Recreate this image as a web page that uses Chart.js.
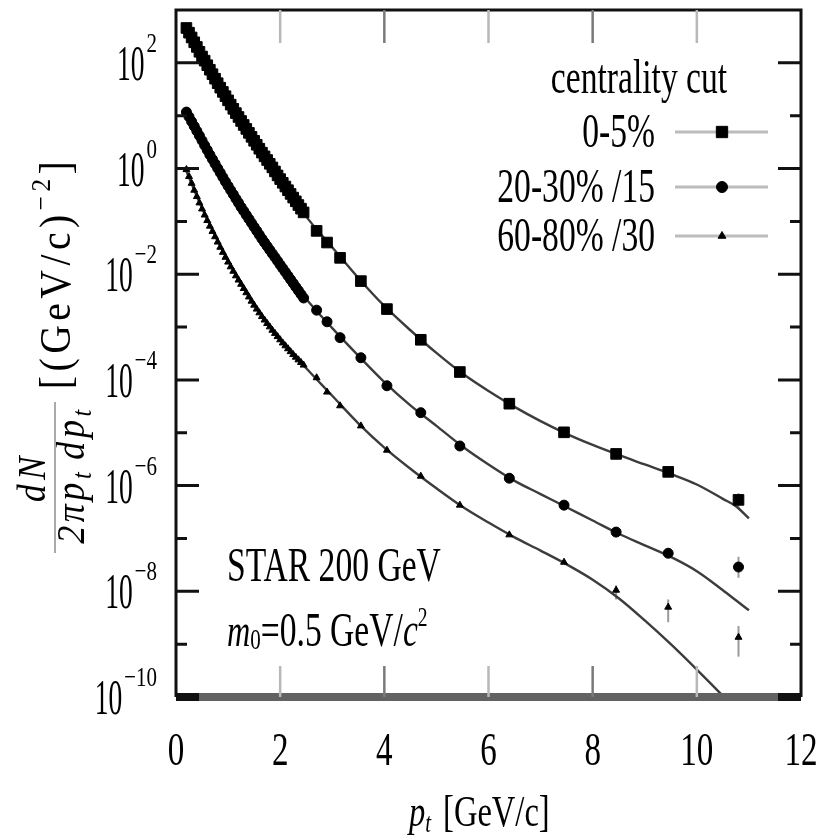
<!DOCTYPE html>
<html>
<head>
<meta charset="utf-8">
<script src="https://cdn.jsdelivr.net/npm/chart.js@4.4.1/dist/chart.umd.min.js"></script>
<style>
body { margin: 0; background: #fff; }
#wrap { width: 823px; height: 838px; }
</style>
</head>
<body>
<div id="wrap"><canvas id="spec" width="823" height="838"></canvas></div>
<script>
'use strict';
// pt bins of the measured points [GeV/c]
const ptData = [0.2, 0.25, 0.3, 0.35, 0.4, 0.45, 0.5, 0.55, 0.6, 0.65, 0.7, 0.75, 0.8, 0.85, 0.9, 0.95,
    1.0, 1.05, 1.1, 1.15, 1.2, 1.25, 1.3, 1.35, 1.4, 1.45, 1.5, 1.55, 1.6, 1.65, 1.7, 1.75,
    1.8, 1.85, 1.9, 1.95, 2.0, 2.05, 2.1, 2.15, 2.2, 2.25, 2.3, 2.35, 2.4, 2.45,
    2.7, 2.9, 3.15, 3.55, 4.05, 4.7, 5.45, 6.4, 7.45, 8.45, 9.45, 10.8];
// spectra
const cent05 = [457, 372, 302, 245, 200, 162, 132, 110, 90.2, 74.1, 61.0, 50.1, 41.2, 33.9, 28.2, 23.4,
    19.5, 16.2, 13.5, 11.2, 9.44, 7.94, 6.68, 5.62, 4.73, 3.98, 3.35, 2.82, 2.37, 2.00, 1.70, 1.45,
    1.23, 1.05, 0.881, 0.741, 0.631, 0.537, 0.457, 0.389, 0.331, 0.282, 0.240, 0.204, 0.174, 0.148,
    0.0661, 0.0398, 0.0204, 7.41e-3, 2.19e-3, 5.75e-4, 1.41e-4, 3.55e-5, 1.02e-5, 3.98e-6, 1.82e-6, 5.37e-7];
const cent2030 = [11.7, 9.55, 7.76, 6.31, 5.13, 4.17, 3.39, 2.75, 2.24, 1.82, 1.50, 1.23, 1.01, 0.832, 0.684, 0.562,
    0.468, 0.389, 0.324, 0.269, 0.224, 0.186, 0.157, 0.132, 0.111, 0.0933, 0.0785, 0.0661, 0.0556, 0.0468, 0.0398, 0.0339,
    0.0288, 0.0245, 0.0209, 0.0178, 0.0151, 0.0129, 0.0110, 9.33e-3, 7.94e-3, 6.76e-3, 5.75e-3, 4.90e-3, 4.17e-3, 3.55e-3,
    2.09e-3, 1.26e-3, 6.31e-4, 2.63e-4, 7.76e-5, 2.40e-5, 5.62e-6, 1.38e-6, 4.27e-7, 1.32e-7, 5.25e-8, 2.88e-8];
const cent6080 = [0.955, 0.708, 0.525, 0.389, 0.295, 0.224, 0.172, 0.132, 0.104, 0.0813, 0.0646, 0.0513, 0.0407, 0.0324, 0.0260, 0.0209,
    0.0170, 0.0138, 0.0114, 9.33e-3, 7.76e-3, 6.46e-3, 5.37e-3, 4.47e-3, 3.72e-3, 3.09e-3, 2.60e-3, 2.19e-3, 1.86e-3, 1.58e-3, 1.36e-3, 1.17e-3,
    1.01e-3, 8.71e-4, 7.59e-4, 6.61e-4, 5.75e-4, 5.01e-4, 4.42e-4, 3.89e-4, 3.43e-4, 3.02e-4, 2.69e-4, 2.40e-4, 2.14e-4, 1.91e-4,
    1.10e-4, 5.89e-5, 3.24e-5, 1.35e-5, 4.68e-6, 1.51e-6, 4.27e-7, 1.17e-7, 3.55e-8, 1.05e-8, 5.01e-9, 1.35e-9];

// error bars on the last points [lo, hi]
const errPt = [8.45, 9.45, 10.8];
const err05 = [[3.6e-6, 4.4e-6], [1.65e-6, 2.0e-6], [3.8e-7, 7.2e-7]];
const err2030 = [[1.2e-7, 1.45e-7], [4.7e-8, 5.9e-8], [1.8e-8, 4.5e-8]];
const err6080 = [[7.0e-9, 1.3e-8], [2.6e-9, 7.0e-9], [5.8e-10, 2.2e-9]];

// model curves (m0 = 0.5 GeV/c^2)
const ptFit = [0.2, 0.5, 1, 1.5, 2, 2.5, 3, 3.5, 4, 4.5, 5, 5.5, 6, 6.5, 7, 7.5, 8, 8.5, 9, 9.5, 10, 10.5, 10.75, 11];
const fit05 = [457, 132, 18.2, 3.31, 0.617, 0.123, 0.0324, 8.51e-3, 2.51e-3, 8.71e-4, 3.24e-4, 1.32e-4,
    6.17e-5, 3.09e-5, 1.66e-5, 9.55e-6, 5.89e-6, 3.80e-6, 2.51e-6, 1.66e-6, 1.05e-6, 5.62e-7, 4.07e-7, 2.40e-7];
const fit2030 = [11.2, 3.39, 0.468, 0.0794, 0.0151, 3.39e-3, 9.55e-4, 2.88e-4, 9.12e-5, 3.31e-5, 1.35e-5, 5.50e-6,
    2.51e-6, 1.23e-6, 6.92e-7, 3.89e-7, 2.19e-7, 1.23e-7, 7.41e-8, 4.47e-8, 2.40e-8, 1.05e-8, 6.76e-9, 4.37e-9];
const fit6080 = [0.891, 0.178, 0.0178, 2.63e-3, 5.75e-4, 1.66e-4, 5.01e-5, 1.51e-5, 5.25e-6, 2.09e-6, 8.91e-7, 3.98e-7,
    2.00e-7, 1.05e-7, 5.89e-8, 3.24e-8, 1.66e-8, 7.41e-9, 2.82e-9, 1.00e-9, 3.31e-10, 1.05e-10, 5.75e-11, 3.16e-11];

const labels = ['0-5%', '20-30% /15', '60-80% /30'];
const xTicks = [0, 2, 4, 6, 8, 10, 12];
const yTickExps = [2, 0, -2, -4, -6, -8, -10];

function pts(xs, ys) {
    return xs.map((x, i) => ({ x: x, y: ys[i] }));
}

const FONT = '"Liberation Serif", "Times New Roman", serif';

// draws a row of text runs; sx squeezes along the text, sy across it
function rich(ctx, parts, x, y, o) {
    o = o || {};
    let sx = o.sx || 1, sy = o.sy || 1;
    ctx.save();
    ctx.translate(x, y);
    if (o.rot) ctx.rotate(o.rot);
    ctx.letterSpacing = (o.ls || 0) + 'px';
    let w = 0;
    parts.forEach(p => {
        ctx.font = (p.it ? 'italic ' : '') + p.s + 'px ' + FONT;
        p.w = ctx.measureText(p.t).width * sx + (p.gap || 0);
        w += p.w;
    });
    let cx = o.align === 'right' ? -w : (o.align === 'center' ? -w / 2 : 0);
    ctx.fillStyle = o.color || '#000';
    ctx.textBaseline = 'alphabetic';
    ctx.textAlign = 'left';
    parts.forEach(p => {
        ctx.font = (p.it ? 'italic ' : '') + p.s + 'px ' + FONT;
        ctx.save();
        ctx.translate(cx + (p.gap || 0), (p.dy || 0) * sy);
        ctx.scale(sx, sy);
        ctx.fillText(p.t, 0, 0);
        ctx.restore();
        cx += p.w;
    });
    ctx.letterSpacing = '0px';
    ctx.restore();
    return w;
}

const errorBars = {
    id: 'errorBars',
    beforeDatasetsDraw(chart) {
        const ctx = chart.ctx, xs = chart.scales.x, ys = chart.scales.y;
        ctx.save();
        ctx.strokeStyle = '#9a9a9a';
        ctx.lineWidth = 2;
        chart.data.datasets.forEach(ds => {
            if (!ds.err) return;
            ds.err.forEach((e, i) => {
                const px = xs.getPixelForValue(errPt[i]);
                ctx.beginPath();
                ctx.moveTo(px, ys.getPixelForValue(e[0]));
                ctx.lineTo(px, ys.getPixelForValue(e[1]));
                ctx.stroke();
            });
        });
        ctx.restore();
    }
};

const frame = {
    id: 'frame',
    afterDatasetsDraw(chart) {
        const ctx = chart.ctx, a = chart.chartArea;
        const xs = chart.scales.x, ys = chart.scales.y;
        ctx.save();
        // border
        ctx.strokeStyle = '#626262';
        ctx.lineWidth = 8;
        ctx.beginPath(); ctx.moveTo(a.left, a.bottom); ctx.lineTo(a.right, a.bottom); ctx.stroke();
        ctx.strokeStyle = '#111';
        ctx.lineWidth = 3;
        ctx.beginPath();
        ctx.moveTo(a.left, a.bottom); ctx.lineTo(a.left, a.top);
        ctx.lineTo(a.right, a.top); ctx.lineTo(a.right, a.bottom);
        ctx.stroke();
        // y ticks inside, both sides
        for (let e = -10; e <= 2; e++) {
            const py = ys.getPixelForValue(Math.pow(10, e));
            const len = e % 2 === 0 ? 23 : 11;
            ctx.lineWidth = e === -10 ? 8 : 3;
            ctx.strokeStyle = '#111';
            ctx.beginPath();
            ctx.moveTo(a.left, py); ctx.lineTo(a.left + len, py);
            ctx.moveTo(a.right, py); ctx.lineTo(a.right - len, py);
            ctx.stroke();
        }
        // x ticks top and bottom
        xTicks.forEach((v, i) => {
            if (v <= xs.min || v >= xs.max) return;
            const px = xs.getPixelForValue(v);
            ctx.strokeStyle = i % 2 === 1 ? '#b8b8b8' : '#7a7a7a';
            ctx.lineWidth = 2.5;
            ctx.beginPath();
            ctx.moveTo(px, a.top); ctx.lineTo(px, a.top + 33);
            ctx.moveTo(px, a.bottom); ctx.lineTo(px, a.bottom - 31);
            ctx.stroke();
        });
        ctx.restore();
    },
    afterDraw(chart) {
        const ctx = chart.ctx;
        const xs = chart.scales.x, ys = chart.scales.y;
        // x tick labels
        xTicks.forEach(v => {
            rich(ctx, [{ t: String(v), s: 46 }], xs.getPixelForValue(v), 765, { align: 'center', sx: 0.72 });
        });
        // y tick labels 10^n
        yTickExps.forEach(e => {
            const py = ys.getPixelForValue(Math.pow(10, e));
            const ex = e < 0 ? '\u2212' + Math.abs(e) : String(e);
            const w = rich(ctx, [{ t: ex, s: 28 }], 157, py - 11, { align: 'right', sx: 0.75 });
            rich(ctx, [{ t: '10', s: 50 }], 155 - w, py + 17, { align: 'right', sx: 0.55 });
        });
        // axis titles
        rich(ctx, [{ t: 'p', s: 44, it: true }, { t: 't', s: 28, it: true, dy: 6 },
            { t: '[GeV/c]', s: 44, gap: 12 }], 409, 826, { sx: 0.74 });
        const R = -Math.PI / 2;
        rich(ctx, [{ t: 'dN', s: 40, it: true }], 45, 477, { rot: R, align: 'center', sx: 0.88, ls: 5 });
        rich(ctx, [{ t: '2\u03C0p', s: 40, it: true }, { t: 't', s: 27, it: true, dy: 7 },
            { t: 'dp', s: 40, it: true, gap: 9 }, { t: 't', s: 27, it: true, dy: 7 }],
            84, 475, { rot: R, align: 'center', sx: 0.9, ls: 4 });
        ctx.save();
        ctx.strokeStyle = '#aaa';
        ctx.lineWidth = 2;
        ctx.beginPath(); ctx.moveTo(55, 402); ctx.lineTo(55, 553); ctx.stroke();
        ctx.restore();
        rich(ctx, [{ t: '[(GeV/c)', s: 44 }, { t: '\u22122', s: 28, dy: -20 }, { t: ']', s: 44 }],
            70, 273, { rot: R, align: 'center', sx: 0.9, ls: 5 });
        // annotations
        rich(ctx, [{ t: 'STAR 200 GeV', s: 48 }], 227, 581, { sx: 0.7 });
        rich(ctx, [{ t: 'm', s: 46, it: true }, { t: '0', s: 30, dy: 3 }, { t: '=0.5 GeV/', s: 48 },
            { t: 'c', s: 48, it: true }, { t: '2', s: 28, dy: -20 }], 227, 646, { sx: 0.7 });
        // legend
        rich(ctx, [{ t: 'centrality cut', s: 48 }], 639, 93, { align: 'center', sx: 0.7 });
        const rowY = [132, 187, 236];
        const dsets = chart.data.datasets.filter(d => d.err);
        dsets.forEach((d, i) => {
            rich(ctx, [{ t: d.label, s: 48 }], 655, rowY[i] + 15, { align: 'right', sx: 0.7 });
            ctx.save();
            ctx.strokeStyle = '#bcbcbc';
            ctx.lineWidth = 3;
            ctx.beginPath(); ctx.moveTo(675, rowY[i]); ctx.lineTo(768, rowY[i]); ctx.stroke();
            ctx.fillStyle = '#000';
            ctx.strokeStyle = '#000';
            ctx.lineWidth = 1;
            Chart.helpers.drawPoint(ctx, { pointStyle: d.pointStyle, radius: d.pointRadius + 0.5, rotation: 0, borderWidth: 1 }, 722, rowY[i]);
            ctx.restore();
        });
    }
};

function dataSet(label, ys, err, style, r) {
    return {
        label: label, data: pts(ptData, ys), err: err,
        showLine: false, pointStyle: style, pointRadius: r, pointHoverRadius: r,
        backgroundColor: '#000', borderColor: '#000', pointBorderWidth: 1, order: 1
    };
}
function fitSet(ys) {
    return {
        label: 'fit', data: pts(ptFit, ys), pointRadius: 0, borderColor: '#3c3c3c',
        borderWidth: 2.4, cubicInterpolationMode: 'monotone', fill: false, order: 2
    };
}

new Chart(document.getElementById('spec'), {
    type: 'line',
    data: {
        datasets: [
            fitSet(fit05), fitSet(fit2030), fitSet(fit6080),
            dataSet(labels[0], cent05, err05, 'rect', 7.5),
            dataSet(labels[1], cent2030, err2030, 'circle', 5),
            dataSet(labels[2], cent6080, err6080, 'triangle', 4)
        ]
    },
    options: {
        responsive: false,
        animation: false,
        devicePixelRatio: 1,
        layout: { padding: { left: 176, top: 10, right: 22, bottom: 141 } },
        plugins: { legend: { display: false }, tooltip: { enabled: false } },
        scales: {
            x: { type: 'linear', min: 0, max: 12, display: false },
            y: { type: 'logarithmic', min: 1e-10, max: 1e3, display: false }
        }
    },
    plugins: [errorBars, frame]
});
</script>
</body>
</html>
